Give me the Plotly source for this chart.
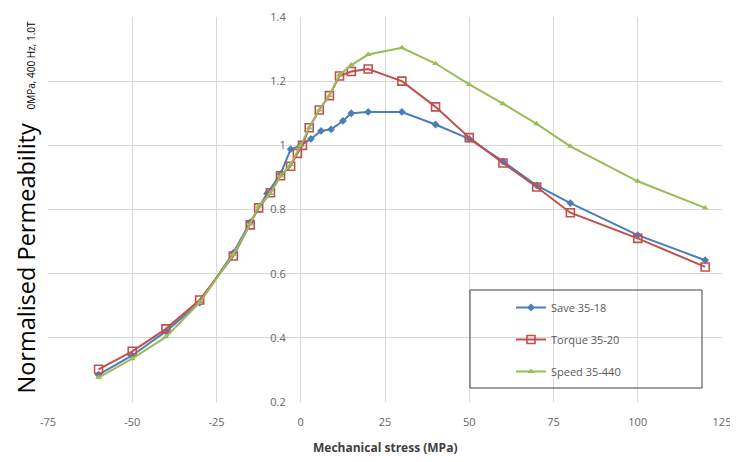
import plotly.graph_objects as go

# Save 35-18
save_x = [-60, -50, -40, -30, -20, -15, -10, -6, -3, 0, 3, 6, 9, 12.5, 15, 20, 30, 40, 50, 60, 70, 80, 100, 120]
save_y = [0.285, 0.345, 0.42, 0.51, 0.665, 0.76, 0.85, 0.91, 0.988, 1.0, 1.02, 1.045, 1.05, 1.076, 1.10, 1.104, 1.104, 1.065, 1.02, 0.95, 0.875, 0.82, 0.72, 0.642]

# Torque 35-20
torque_x = [-60, -50, -40, -30, -20, -15, -12.5, -9, -6, -3, -1, 0.5, 2.5, 5.5, 8.5, 11.5, 15, 20, 30, 40, 50, 60, 70, 80, 100, 120]
torque_y = [0.302, 0.358, 0.428, 0.518, 0.655, 0.752, 0.805, 0.852, 0.905, 0.935, 0.975, 1.0, 1.055, 1.11, 1.155, 1.216, 1.23, 1.238, 1.20, 1.12, 1.024, 0.945, 0.87, 0.79, 0.71, 0.621]

# Speed 35-440
speed_x = [-60, -50, -40, -30, -20, -15, -12.5, -9, -6, -3, 0, 2.5, 5.5, 8.5, 11.5, 15, 20, 30, 40, 50, 60, 70, 80, 100, 120]
speed_y = [0.276, 0.335, 0.403, 0.51, 0.66, 0.755, 0.81, 0.85, 0.905, 0.94, 1.0, 1.055, 1.11, 1.155, 1.22, 1.25, 1.283, 1.304, 1.255, 1.19, 1.13, 1.067, 0.997, 0.888, 0.805]

x_ticks = [-75, -50, -25, 0, 25, 50, 75, 100, 125]
x_tick_labels = ["-75", "-50", "-25", "0", "25", "50", "75", "100", "125"]
y_ticks = [0.2, 0.4, 0.6, 0.8, 1.0, 1.2, 1.4]
y_tick_labels = ["0.2", "0.4", "0.6", "0.8", "1", "1.2", "1.4"]

fig = go.Figure()
fig.add_trace(go.Scatter(
    x=save_x, y=save_y, mode="lines+markers", name="Save 35-18",
    line=dict(color="#4a7ebb", width=2),
    marker=dict(symbol="diamond", size=6, color="#4a7ebb"),
    legendgroup="a"))
fig.add_trace(go.Scatter(
    x=torque_x, y=torque_y, mode="lines+markers", name="Torque 35-20",
    line=dict(color="#c0504d", width=2),
    marker=dict(symbol="square-open", size=8, color="#c0504d", line=dict(width=1.6)),
    legendgroup="b"))
fig.add_trace(go.Scatter(
    x=speed_x, y=speed_y, mode="lines+markers", name="Speed 35-440",
    line=dict(color="#9bbb59", width=2),
    marker=dict(symbol="triangle-up", size=6, color="#9bbb59"),
    legendgroup="c"))

tick_font = dict(family="Open Sans", size=11, color="#666666")

# page body has an 8px default margin: compensate so the screenshot matches
OFF = 8
W, H = 738 - OFF, 462 - OFF
L, R, T = 48 - OFF, 16, 17 - OFF
B = H - (402 - OFF)
PW, PH = W - L - R, H - T - B

def px_x(sx):
    return (sx - OFF - L) / PW

def px_y(sy):
    return (H - B - (sy - OFF)) / PH

fig.update_layout(
    width=W, height=H,
    margin=dict(l=L, r=R, t=T, b=B, autoexpand=False),
    paper_bgcolor="white", plot_bgcolor="white",
    showlegend=True,
    legend=dict(
        x=px_x(511), y=px_y(293), xanchor="left", yanchor="top",
        bgcolor="rgba(0,0,0,0)", borderwidth=0,
        font=dict(family="Open Sans", size=11, color="#595959"),
        traceorder="grouped", tracegroupgap=13, itemwidth=30,
    ),
    xaxis=dict(
        range=[-75, 125], tickvals=x_ticks, ticktext=x_tick_labels, ticks="", showline=False,
        showgrid=True, gridcolor="#d9d9d9", gridwidth=1, zeroline=False,
        tickfont=tick_font, ticklabelstandoff=12, automargin=False,
    ),
    yaxis=dict(
        range=[0.2, 1.4], tickvals=y_ticks, ticktext=y_tick_labels, ticks="", showline=False,
        anchor="free", position=(0 + 75) / 200,
        showgrid=True, gridcolor="#d9d9d9", gridwidth=1, zeroline=False,
        tickfont=tick_font, ticklabelstandoff=15, automargin=False,
    ),
    shapes=[dict(type="rect", xref="paper", yref="paper",
                 x0=px_x(470), x1=px_x(702), y0=px_y(388), y1=px_y(290),
                 line=dict(color="#404040", width=1), fillcolor="rgba(0,0,0,0)")],
    annotations=[
        dict(text="Normalised Permeability",
             xref="paper", yref="paper", x=px_x(25.5), y=px_y(396),
             xanchor="center", yanchor="bottom", textangle=-90, showarrow=False,
             font=dict(family="Open Sans", size=23.5, color="black")),
        dict(text="0MPa, 400 Hz, 1.0T",
             xref="paper", yref="paper", x=px_x(31), y=px_y(112),
             xanchor="center", yanchor="bottom", textangle=-90, showarrow=False,
             font=dict(family="Open Sans", size=10, color="black")),
        dict(text="<b>Mechanical stress (MPa)</b>",
             xref="paper", yref="paper", x=px_x(385), y=px_y(447),
             xanchor="center", yanchor="middle", showarrow=False,
             font=dict(family="Open Sans", size=12, color="#404040")),
    ],
)

fig.write_html("out.html")
